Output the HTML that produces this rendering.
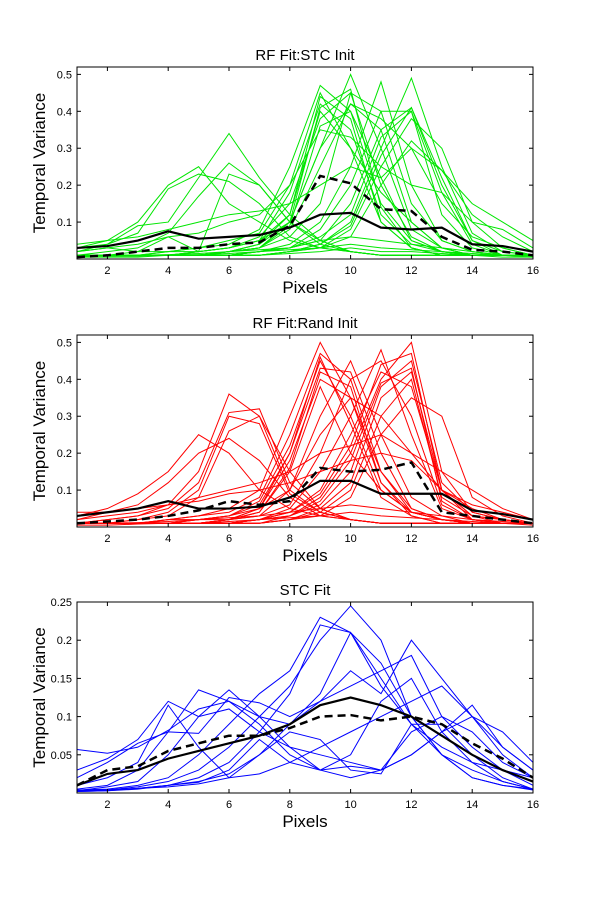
<!DOCTYPE html>
<html><head><meta charset="utf-8"><style>
body{margin:0;background:#fff}
svg text{font-family:"Liberation Sans",Arial,sans-serif;fill:#000}
</style></head><body>
<svg id="c" width="589" height="892" xmlns="http://www.w3.org/2000/svg"></svg>
<script>
const xCats=[1,2,3,4,5,6,7,8,9,10,11,12,13,14,15,16];
const xTicks=[2,4,6,8,10,12,14,16];
const yTicks12=[0.1,0.2,0.3,0.4,0.5];
const yTicks3=[0.05,0.1,0.15,0.2,0.25];
const titles=["RF Fit:STC Init","RF Fit:Rand Init","STC Fit"];
const greenSeries=[
[.03,.05,.1,.2,.25,.15,.1,.05,.03,.02,.01,.01,.01,.01,.01,.01],
[.02,.04,.07,.19,.23,.21,.15,.06,.03,.02,.01,.01,.01,.01,.01,.01],
[.03,.04,.09,.1,.22,.34,.22,.12,.05,.02,.01,.01,.01,.01,.01,.01],
[.01,.02,.03,.07,.17,.26,.2,.1,.04,.02,.01,.01,.01,.01,.01,.01],
[.02,.03,.02,.06,.02,.23,.2,.1,.05,.02,.01,.01,.01,.01,.01,.01],
[.01,.01,.02,.02,.03,.05,.07,.2,.45,.3,.1,.03,.01,.01,.01,.01],
[.01,.01,.01,.02,.03,.04,.08,.25,.47,.4,.15,.05,.02,.01,.01,.01],
[.01,.01,.01,.01,.02,.03,.05,.18,.42,.35,.12,.04,.02,.01,.01,.01],
[.01,.01,.01,.01,.02,.03,.06,.15,.38,.45,.2,.06,.02,.01,.01,.01],
[.01,.01,.01,.01,.01,.02,.04,.1,.3,.5,.3,.08,.03,.01,.01,.01],
[.01,.01,.01,.01,.01,.02,.03,.08,.25,.42,.35,.1,.03,.01,.01,.01],
[.01,.01,.01,.01,.02,.03,.05,.12,.4,.3,.18,.1,.03,.01,.01,.01],
[.01,.01,.01,.01,.01,.01,.02,.04,.1,.25,.48,.2,.05,.02,.01,.01],
[.01,.01,.01,.01,.01,.01,.02,.03,.08,.2,.4,.4,.12,.03,.01,.01],
[.01,.01,.01,.01,.01,.01,.02,.03,.05,.15,.35,.41,.2,.05,.02,.01],
[.01,.01,.01,.01,.01,.01,.01,.02,.04,.1,.3,.49,.25,.07,.02,.01],
[.01,.01,.01,.01,.01,.01,.01,.02,.03,.08,.25,.38,.3,.1,.03,.01],
[.01,.01,.01,.01,.01,.01,.01,.02,.03,.06,.2,.32,.24,.12,.06,.02],
[.04,.05,.06,.08,.1,.12,.13,.15,.2,.25,.22,.3,.24,.15,.1,.05],
[.02,.03,.04,.06,.07,.1,.12,.2,.35,.33,.25,.2,.18,.1,.08,.03],
[.01,.01,.01,.02,.02,.03,.05,.1,.3,.42,.38,.3,.15,.06,.03,.01],
[.01,.01,.01,.01,.01,.02,.03,.06,.15,.45,.4,.15,.05,.02,.01,.01],
[.01,.01,.01,.01,.01,.02,.04,.12,.44,.38,.1,.03,.01,.01,.01,.01],
[.01,.01,.01,.01,.01,.02,.03,.1,.41,.46,.14,.03,.01,.01,.01,.01],
[.01,.01,.01,.01,.01,.02,.03,.09,.36,.4,.22,.05,.02,.01,.01,.01],
[.01,.01,.01,.01,.01,.01,.02,.03,.06,.12,.33,.4,.18,.04,.01,.01],
[.01,.01,.01,.01,.01,.01,.01,.02,.04,.09,.28,.41,.22,.05,.01,.01],
[.005,.005,.005,.01,.01,.01,.01,.015,.02,.03,.02,.02,.015,.01,.005,.005],
[.008,.008,.008,.01,.012,.015,.02,.025,.03,.04,.03,.025,.02,.015,.01,.008],
[.005,.01,.01,.012,.015,.02,.025,.03,.05,.06,.05,.04,.03,.02,.01,.005]];
const greenMean=[.03,.035,.05,.075,.055,.06,.065,.085,.12,.125,.085,.08,.085,.04,.035,.02];
const greenMedian=[.005,.01,.02,.03,.03,.04,.045,.09,.225,.205,.135,.13,.06,.025,.02,.01];
const redSeries=[
[.03,.05,.09,.15,.25,.2,.1,.05,.03,.02,.01,.01,.01,.01,.01,.01],
[.02,.04,.06,.12,.2,.24,.18,.08,.03,.02,.01,.01,.01,.01,.01,.01],
[.01,.02,.03,.06,.15,.36,.3,.1,.04,.02,.01,.01,.01,.01,.01,.01],
[.01,.02,.03,.05,.12,.31,.32,.12,.05,.02,.01,.01,.01,.01,.01,.01],
[.01,.01,.02,.04,.1,.3,.28,.09,.04,.02,.01,.01,.01,.01,.01,.01],
[.01,.01,.02,.03,.08,.26,.3,.15,.05,.02,.01,.01,.01,.01,.01,.01],
[.01,.01,.01,.02,.03,.05,.1,.3,.5,.35,.12,.04,.02,.01,.01,.01],
[.01,.01,.01,.02,.03,.04,.08,.25,.47,.4,.15,.05,.02,.01,.01,.01],
[.01,.01,.01,.01,.02,.03,.07,.22,.45,.3,.1,.04,.02,.01,.01,.01],
[.01,.01,.01,.01,.02,.03,.06,.2,.43,.42,.2,.05,.02,.01,.01,.01],
[.01,.01,.01,.01,.02,.02,.05,.18,.4,.35,.15,.04,.02,.01,.01,.01],
[.01,.01,.01,.01,.01,.02,.04,.15,.38,.2,.1,.04,.02,.01,.01,.01],
[.01,.01,.01,.01,.01,.02,.03,.1,.3,.45,.25,.08,.03,.01,.01,.01],
[.01,.01,.01,.01,.01,.01,.02,.05,.15,.3,.48,.25,.05,.02,.01,.01],
[.01,.01,.01,.01,.01,.01,.02,.04,.1,.25,.42,.38,.1,.03,.01,.01],
[.01,.01,.01,.01,.01,.01,.02,.03,.08,.2,.4,.5,.15,.04,.02,.01],
[.01,.01,.01,.01,.01,.01,.01,.03,.06,.15,.38,.45,.12,.04,.02,.01],
[.01,.01,.01,.01,.01,.01,.01,.02,.05,.12,.35,.42,.1,.03,.02,.01],
[.01,.01,.01,.01,.01,.01,.01,.02,.04,.1,.3,.4,.08,.03,.02,.01],
[.01,.01,.01,.01,.01,.01,.01,.02,.03,.08,.25,.35,.3,.08,.03,.01],
[.02,.03,.04,.06,.08,.1,.12,.15,.2,.22,.25,.2,.15,.1,.05,.02],
[.04,.04,.05,.06,.07,.09,.1,.12,.15,.18,.2,.18,.1,.06,.04,.02],
[.01,.01,.01,.02,.02,.03,.05,.1,.25,.35,.3,.2,.1,.05,.02,.01],
[.01,.01,.01,.01,.01,.02,.03,.06,.2,.4,.45,.3,.06,.02,.01,.01],
[.01,.01,.01,.01,.01,.02,.05,.2,.46,.28,.08,.03,.01,.01,.01,.01],
[.01,.01,.01,.01,.01,.02,.04,.16,.42,.38,.12,.03,.01,.01,.01,.01],
[.01,.01,.01,.01,.01,.01,.02,.04,.09,.22,.44,.47,.1,.02,.01,.01],
[.01,.01,.01,.01,.01,.01,.02,.03,.07,.18,.39,.43,.07,.02,.01,.01],
[.005,.005,.008,.01,.01,.015,.02,.025,.03,.04,.03,.025,.02,.015,.01,.005],
[.01,.01,.012,.015,.02,.025,.03,.04,.05,.06,.05,.04,.03,.02,.015,.01]];
const redMean=[.03,.04,.05,.07,.05,.05,.055,.08,.125,.125,.09,.09,.09,.045,.035,.02];
const redMedian=[.01,.015,.02,.03,.045,.07,.06,.07,.16,.15,.155,.175,.04,.03,.02,.01];
const blueSeries=[
[.057,.052,.06,.082,.11,.12,.1,.09,.13,.21,.14,.09,.06,.04,.03,.02],
[.03,.045,.07,.12,.1,.11,.08,.06,.05,.04,.03,.05,.08,.1,.08,.04],
[.02,.04,.065,.08,.078,.125,.118,.1,.12,.16,.13,.2,.15,.1,.06,.03],
[.01,.02,.04,.115,.06,.02,.05,.09,.12,.14,.16,.18,.1,.06,.03,.01],
[.005,.01,.03,.08,.135,.12,.09,.05,.03,.035,.03,.05,.08,.115,.06,.03],
[.003,.008,.015,.05,.1,.135,.1,.06,.03,.02,.03,.08,.1,.08,.04,.02],
[.004,.005,.01,.02,.05,.09,.13,.16,.23,.21,.15,.09,.05,.03,.015,.005],
[.003,.004,.008,.015,.03,.06,.1,.14,.2,.245,.2,.1,.05,.02,.01,.005],
[.002,.003,.006,.01,.02,.04,.08,.13,.22,.21,.17,.1,.05,.02,.01,.004],
[.002,.003,.005,.01,.015,.025,.05,.08,.07,.03,.025,.09,.09,.05,.02,.005],
[.003,.004,.006,.01,.014,.03,.07,.04,.03,.05,.12,.15,.08,.04,.015,.005],
[.003,.004,.006,.008,.012,.02,.025,.04,.06,.08,.1,.12,.14,.1,.05,.02]];
const blueMean=[.01,.025,.03,.045,.055,.065,.075,.09,.115,.125,.115,.1,.075,.05,.03,.015];
const blueMedian=[.01,.03,.035,.055,.065,.075,.075,.085,.1,.102,.095,.1,.09,.065,.045,.02];

const NS="http://www.w3.org/2000/svg";
const svg=document.getElementById('c');
function el(tag,attrs,parent){const e=document.createElementNS(NS,tag);for(const k in attrs)e.setAttribute(k,attrs[k]);(parent||svg).appendChild(e);return e;}
const X0=77,X1=533;
function xs(v){return X0+(v-1)/(16-1)*(X1-X0);}
function panel(idx,top,bot,yMax,yTicks,series,color,mean,median,fmt){
  const g=el('g',{});
  
  
  const ys=v=>bot-v/yMax*(bot-top);
  const clip='clip'+idx;
  const cp=el('clipPath',{id:clip},g);el('rect',{x:X0,y:top,width:X1-X0,height:bot-top},cp);
  const lines=el('g',{'clip-path':'url(#'+clip+')'},g);
  series.forEach((s,i)=>{
    const p=el('polyline',{points:s.map((v,j)=>xs(xCats[j])+','+ys(v)).join(' '),fill:'none',stroke:color,'stroke-width':1},lines);
    
    
  });
  const m=el('polyline',{points:mean.map((v,j)=>xs(xCats[j])+','+ys(v)).join(' '),fill:'none',stroke:'#000','stroke-width':2.2},lines);
  
  
  const d=el('polyline',{points:median.map((v,j)=>xs(xCats[j])+','+ys(v)).join(' '),fill:'none',stroke:'#000','stroke-width':2.5,'stroke-dasharray':'8,5'},lines);
  
  
  el('rect',{x:X0,y:top,width:X1-X0,height:bot-top,fill:'none',stroke:'#000','stroke-width':1},g);
  xTicks.forEach(t=>{const x=xs(t);
    el('line',{x1:x,x2:x,y1:bot,y2:bot-4,stroke:'#000'},g);el('line',{x1:x,x2:x,y1:top,y2:top+4,stroke:'#000'},g);
    const tx=el('text',{x:x,y:bot+15,'text-anchor':'middle','font-size':11},g);tx.textContent=t;
    });
  yTicks.forEach(t=>{const y=ys(t);
    el('line',{x1:X0,x2:X0+4,y1:y,y2:y,stroke:'#000'},g);el('line',{x1:X1,x2:X1-4,y1:y,y2:y,stroke:'#000'},g);
    const tx=el('text',{x:X0-5,y:y+4,'text-anchor':'end','font-size':11},g);tx.textContent=fmt(t);
    });
  const ti=el('text',{x:(X0+X1)/2,y:top-7,'text-anchor':'middle','font-size':15},g);ti.textContent=titles[idx];
  
  const xl=el('text',{x:(X0+X1)/2,y:bot+34,'text-anchor':'middle','font-size':17},g);xl.textContent='Pixels';
  
  const yl=el('text',{x:0,y:0,'text-anchor':'middle','font-size':17,transform:'translate(45,'+((top+bot)/2)+') rotate(-90)'},g);yl.textContent='Temporal Variance';
  
}
const f1=t=>t.toFixed(1);
const f3=t=>(Math.round(t*100)%10===0?t.toFixed(1):t.toFixed(2));
panel(0,67,259,0.52,yTicks12,greenSeries,'#00e600',greenMean,greenMedian,f1);
panel(1,335,527,0.52,yTicks12,redSeries,'#ff0000',redMean,redMedian,f1);
panel(2,602,793,0.25,yTicks3,blueSeries,'#0000ff',blueMean,blueMedian,f3);
</script>
</body></html>
